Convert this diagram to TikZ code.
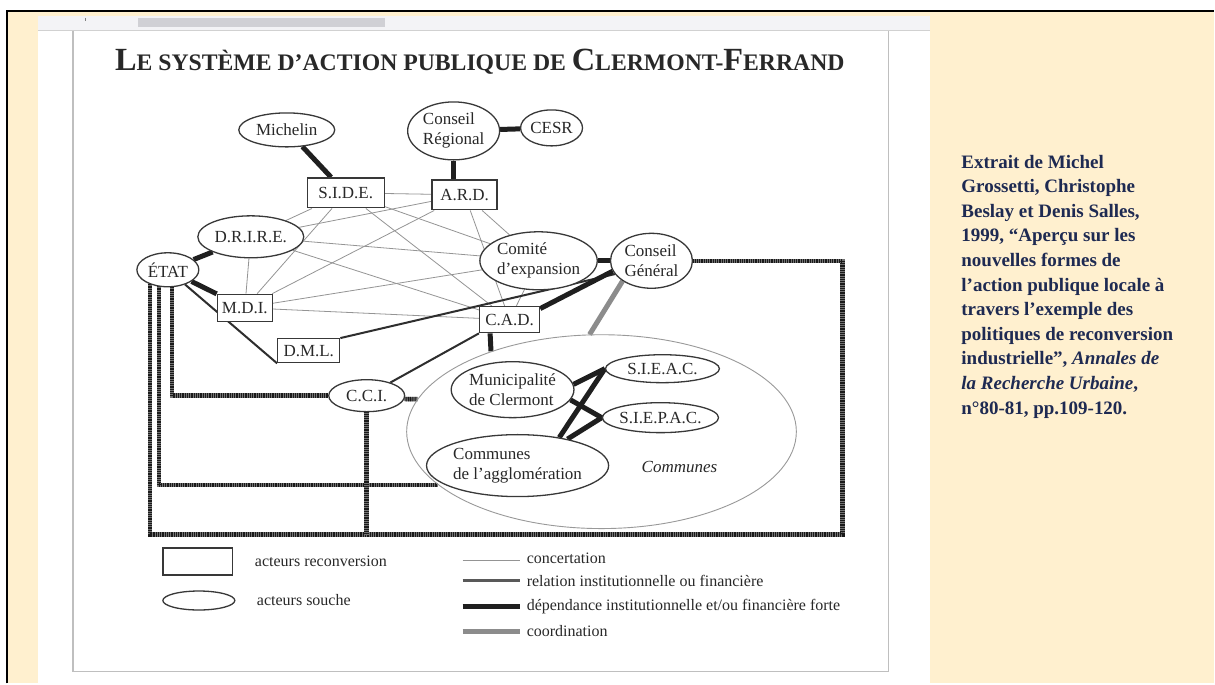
\documentclass[tikz,border=0pt]{standalone}
\usepackage{fontspec}
\setmainfont{Liberation Serif}
\usepackage{graphicx}
\usetikzlibrary{shapes.geometric}
\definecolor{cream}{RGB}{255,240,207}
\definecolor{navy}{RGB}{30,42,82}
\definecolor{ink}{RGB}{40,40,40}
\definecolor{toolbar}{RGB}{243,243,246}
\definecolor{scrollbar}{RGB}{208,208,213}
\pgfdeclarelayer{back}
\pgfdeclarelayer{mid}
\pgfsetlayers{back,mid,main}
\tikzset{
  box/.style={rectangle, draw=black!78, line width=1.3pt, fill=white, inner sep=0pt, text=ink, font=\fontsize{17}{20}\selectfont},
  ell/.style={ellipse, draw=black!78, line width=1.3pt, fill=white, inner sep=0pt, text=ink, align=left, font=\fontsize{17}{20}\selectfont},
  bigell/.style={ellipse, draw=black!40, line width=0.9pt, inner sep=0pt},
  conc/.style={draw=black!42, line width=0.8pt},
  rel/.style={draw=black!82, line width=2pt},
  dep/.style={draw=black!88, line width=5pt},
  coord/.style={draw=black!45, line width=5pt},
  rail/.style={draw=black!90, line width=4.5pt, dash pattern=on 0.9pt off 0.9pt, preaction={draw=black!55, line width=4.5pt, solid}},
  lgtext/.style={anchor=west, inner sep=0pt, text=ink, font=\fontsize{16}{18}\selectfont},
}
\begin{document}
\begin{tikzpicture}[x=1pt,y=-1pt]
\begin{pgfonlayer}{back}
\fill[white] (0,0) rectangle (1215,684);
\fill[cream] (7,11) rectangle (1215,684);
\fill[white] (38,16) rectangle (931,684);
\fill[toolbar] (38,16) rectangle (931,31);
\fill[scrollbar] (138,18) rectangle (385,27);
\draw[black!50, line width=0.6pt] (85,18) -- (85,21);
\draw[black!18, line width=1pt] (38,31) -- (931,31);
\draw[black!25, line width=1.2pt] (73,31) -- (73,672) -- (889,672) -- (889,31);
\draw[black, line width=2pt] (7,684) -- (7,11) -- (1215,11);
\end{pgfonlayer}

% title
\node[anchor=base west, inner sep=0pt, text=ink] (title) at (115,71)
 {\resizebox{730pt}{!}{\bfseries\fontsize{30}{30}\selectfont L\fontsize{22}{22}\selectfont E SYSTÈME D’ACTION PUBLIQUE DE \fontsize{30}{30}\selectfont C\fontsize{22}{22}\selectfont LERMONT-\fontsize{30}{30}\selectfont F\fontsize{22}{22}\selectfont ERRAND}};

% nodes
\node[ell, minimum width=96pt, minimum height=34pt] (michelin) at (287,130) {Michelin};
\node[ell, minimum width=92pt, minimum height=58pt] (creg) at (454,131) {Conseil\\Régional};
\node[ell, minimum width=62pt, minimum height=36pt] (cesr) at (552,128) {CESR};
\node[box, minimum width=77pt, minimum height=30pt] (side) at (346,193) {S.I.D.E.};
\node[box, minimum width=65pt, minimum height=30pt] (ard) at (465,195) {A.R.D.};
\node[ell, minimum width=106pt, minimum height=42pt] (drire) at (251,237) {D.R.I.R.E.};
\node[ell, minimum width=62pt, minimum height=34pt] (etat) at (168,270) {ÉTAT};
\node[box, minimum width=55pt, minimum height=27pt] (mdi) at (245,308) {M.D.I.};
\node[ell, minimum width=102pt, minimum height=58pt] (comite) at (539,261) {Comité\\d'expansion};
\node[ell, minimum width=82pt, minimum height=55pt] (cg) at (652,261) {Conseil\\Général};
\node[box, minimum width=60pt, minimum height=26pt] (cad) at (510,320) {C.A.D.};
\node[box, minimum width=62pt, minimum height=24pt] (dml) at (309,351) {D.M.L.};
\node[ell, minimum width=76pt, minimum height=32pt] (cci) at (367,396) {C.C.I.};
\node[bigell, minimum width=390pt, minimum height=194pt] (communes) at (602,432) {};
\node[ell, minimum width=120pt, minimum height=56pt] (muni) at (513,390) {Municipalité\\de Clermont};
\node[ell, minimum width=114pt, minimum height=28pt] (sieac) at (663,369) {S.I.E.A.C.};
\node[ell, minimum width=112pt, minimum height=30pt] (siepac) at (661,418) {S.I.E.P.A.C.};
\node[ell, minimum width=157pt, minimum height=62pt] (agglo) at (518,466) {Communes\\de l'agglomération};
\node[inner sep=0pt, text=ink, font=\itshape\fontsize{17}{18}\selectfont] (communeslbl) at (680,467) {Communes};

% coordinates for rails
\coordinate (r1a) at (150,284);
\coordinate (r1b) at (150,535);
\coordinate (r1c) at (843,535);
\coordinate (r2a) at (159,286);
\coordinate (r3a) at (172,287);

\begin{pgfonlayer}{mid}
% concertation
\foreach \a/\b in {side/ard, side/drire, side/mdi, side/comite, side/cad,
  ard/drire, ard/mdi, ard/comite, ard/cad,
  drire/mdi, drire/comite, drire/cad,
  mdi/comite, mdi/cad, comite/cad}
  \draw[conc] (\a) -- (\b);
% relation
\draw[rel] (etat) -- (dml.south west);
\draw[rel] (dml.north east) -- (cg.200);
\draw[rel] (cci) -- (cad.south west);
% dependance
\draw[dep] (michelin) -- (side);
\draw[dep] (creg) -- (cesr);
\draw[dep] (creg.south) -- (creg.south |- ard.north);
\draw[dep] (etat) -- (drire);
\draw[dep] (etat) -- (mdi);
\draw[dep] (comite) -- (cg);
\draw[dep] (cad.20) -- (cg.195);
\draw[dep] (cad.215) -- (communes.144);
\draw[dep] (muni.5) -- (sieac.west);
\draw[dep] (muni.-10) -- (siepac.west);
\draw[dep] (agglo.34) -- (sieac.west);
\draw[dep] (agglo.28) -- (siepac.west);
% coordination
\draw[coord] (cg.215) -- (communes.97);
% rails
\draw[rail] (r1a) -- (r1b) -- (r1c) |- (cg.east);
\draw[rail] (r2a) |- (communes.198);
\draw[rail] (r3a) |- (cci.west);
\draw[rail] (cci.south) -- (cci.south |- r1b);
\draw[rail] (cci.-5) -- (communes.170);
\end{pgfonlayer}

% legend
\node[box, minimum width=70pt, minimum height=27pt] (lgbox) at (198,562) {};
\node[ell, minimum width=72pt, minimum height=19pt] (lgell) at (199,601) {};
\node[lgtext] (lgboxt) at (255,562) {acteurs reconversion};
\node[lgtext] (lgellt) at (257,601) {acteurs souche};
\coordinate (la1) at (463,561); \coordinate (lb1) at (520,561);
\coordinate (la2) at (463,581); \coordinate (lb2) at (520,581);
\coordinate (la3) at (463,607); \coordinate (lb3) at (520,607);
\coordinate (la4) at (463,632); \coordinate (lb4) at (520,632);
\draw[conc] (la1) -- (lb1);
\draw[draw=black!65, line width=2.5pt] (la2) -- (lb2);
\draw[draw=black!88, line width=5pt] (la3) -- (lb3);
\draw[draw=black!45, line width=5pt] (la4) -- (lb4);
\node[lgtext] (lt1) at (527,559) {concertation};
\node[lgtext] (lt2) at (527,581) {relation institutionnelle ou financière};
\node[lgtext] (lt3) at (527,607) {dépendance institutionnelle et/ou financière forte};
\node[lgtext] (lt4) at (527,632) {coordination};

% side text
\node[anchor=north west, inner sep=0pt, align=left, text=navy,
  font=\bfseries\fontsize{19}{24.6}\selectfont] (ref) at (962,155)
 {Extrait de Michel\\
  Grossetti, Christophe\\
  Beslay et Denis Salles,\\
  1999, “Aperçu sur les\\
  nouvelles formes de\\
  l’action publique locale à\\
  travers l’exemple des\\
  politiques de reconversion\\
  industrielle”, \textit{Annales de}\\
  \textit{la Recherche Urbaine},\\
  n°80-81, pp.109-120.};
\end{tikzpicture}
\end{document}
